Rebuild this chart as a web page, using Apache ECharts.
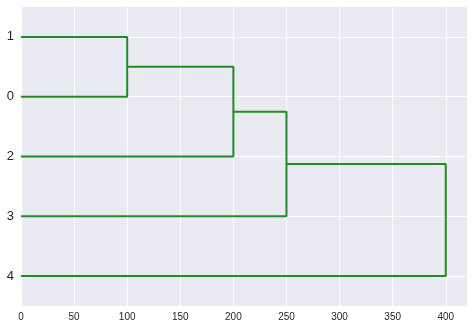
<!DOCTYPE html>
<html>
<head>
<meta charset="utf-8">
<script src="https://cdn.jsdelivr.net/npm/echarts@6/dist/echarts.min.js"></script>
<style>html,body{margin:0;padding:0;background:#fff}#c{width:474px;height:330px}</style>
</head>
<body>
<div id="c"></div>
<script>
// leaf labels from bottom to top (leaf positions 5, 15, 25, 35, 45)
const leafLabels = ['4', '3', '2', '0', '1'];
const leafPositions = [5, 15, 25, 35, 45];
// link coordinates (scipy-style icoord / dcoord)
const icoord = [
  [35, 35, 45, 45],
  [25, 25, 40, 40],
  [15, 15, 32.5, 32.5],
  [5, 5, 23.75, 23.75]
];
const dcoord = [
  [0, 100, 100, 0],
  [0, 200, 200, 100],
  [0, 250, 250, 200],
  [0, 400, 400, 250]
];
const xTicks = [0, 50, 100, 150, 200, 250, 300, 350, 400];

const chart = echarts.init(document.getElementById('c'), null, {renderer: 'canvas'});
const series = icoord.map((ic, k) => ({
  type: 'line',
  data: ic.map((y, j) => [dcoord[k][j], y]),
  showSymbol: false,
  symbol: 'none',
  lineStyle: {color: '#238b23', width: 2},
  animation: false,
  silent: true
}));
chart.setOption({
  backgroundColor: '#ffffff',
  animation: false,
  grid: {left: 21, right: 7, top: 7, bottom: 24, show: true, backgroundColor: '#eaeaf2', borderWidth: 0},
  xAxis: {
    type: 'value', min: 0, max: 420, interval: 50,
    axisLine: {show: false}, axisTick: {show: false},
    axisLabel: {
      color: '#262626', fontFamily: 'Liberation Sans', fontSize: 10, margin: 6,
      showMaxLabel: false,
      formatter: v => xTicks.indexOf(v) >= 0 ? String(v) : ''
    },
    splitLine: {show: true, lineStyle: {color: '#ffffff', width: 1}}
  },
  yAxis: {
    type: 'value', min: 0, max: 50, interval: 5,
    axisLine: {show: false}, axisTick: {show: false},
    axisLabel: {
      color: '#262626', fontFamily: 'Liberation Sans', fontSize: 13, margin: 7,
      formatter: v => {
        const i = leafPositions.indexOf(v);
        return i >= 0 ? leafLabels[i] : '';
      }
    },
    splitLine: {show: true, lineStyle: {color: ['rgba(0,0,0,0)', '#ffffff'], width: 1}}
  },
  series: series
});
</script>
</body>
</html>
